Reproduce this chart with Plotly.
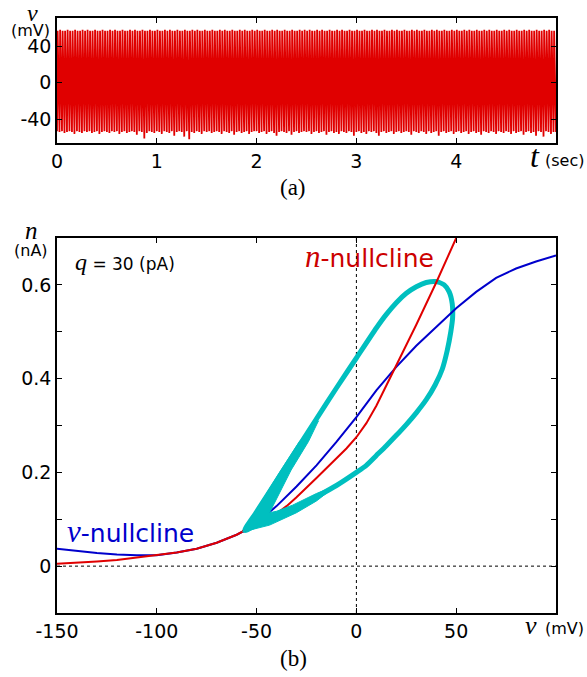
import numpy as np
import plotly.graph_objects as go

# ---------------- panel (a): membrane potential v(t) ----------------
T_END = 5.0
# trough (min) of each 25-ms bin, mV
trough_mv = [
    -53, -54, -53, -55, -54, -53, -54, -56, -53, -54, -55, -53, -54, -53, -55, -54, -53, -56, -54, -53,
    -54, -55, -53, -54, -53, -56, -54, -53, -55, -54, -53, -54, -57, -53, -54, -61, -55, -53, -54, -55,
    -53, -54, -56, -53, -54, -55, -53, -58, -54, -53, -54, -59, -53, -62, -54, -55, -53, -54, -56, -53,
    -54, -53, -55, -54, -53, -54, -56, -53, -54, -55, -53, -57, -54, -53, -55, -54, -53, -56, -54, -53,
    -53, -55, -54, -53, -56, -54, -53, -55, -58, -54, -53, -54, -55, -53, -57, -54, -53, -55, -54, -53,
    -54, -53, -56, -54, -53, -55, -54, -53, -57, -54, -53, -55, -54, -56, -53, -54, -55, -53, -54, -58,
    -54, -53, -55, -54, -56, -53, -54, -53, -55, -58, -54, -53, -55, -54, -53, -56, -54, -53, -55, -54,
    -53, -54, -57, -53, -54, -55, -53, -54, -56, -53, -55, -54, -53, -58, -54, -53, -55, -54, -53, -56,
    -54, -53, -55, -54, -53, -56, -54, -53, -55, -54, -57, -53, -54, -55, -53, -54, -56, -53, -54, -55,
    -53, -54, -56, -53, -55, -54, -53, -57, -54, -53, -55, -54, -58, -53, -54, -59, -53, -54, -56, -54,
]
# peak (max) of each 25-ms bin, mV
peak_mv = [
    57, 58, 57, 57, 58, 57, 57, 58, 57, 57, 58, 57, 58, 57, 57, 58, 57, 57, 58, 57,
    57, 58, 57, 58, 57, 57, 58, 57, 57, 58, 57, 58, 57, 57, 58, 57, 57, 58, 57, 57,
    58, 57, 57, 58, 57, 58, 57, 57, 58, 57, 57, 58, 57, 57, 58, 57, 58, 57, 57, 58,
    57, 57, 58, 57, 57, 58, 57, 58, 57, 57, 58, 57, 57, 58, 57, 58, 57, 57, 58, 57,
    58, 57, 57, 58, 57, 57, 58, 57, 58, 57, 57, 58, 57, 57, 58, 57, 57, 58, 57, 58,
    57, 58, 57, 57, 58, 57, 58, 57, 57, 58, 57, 57, 58, 57, 58, 57, 57, 58, 57, 57,
    58, 57, 57, 58, 57, 57, 58, 57, 58, 57, 57, 58, 57, 57, 58, 57, 58, 57, 57, 58,
    57, 57, 58, 57, 58, 57, 57, 58, 57, 57, 58, 57, 58, 57, 57, 58, 57, 57, 58, 57,
    58, 57, 57, 58, 57, 58, 57, 57, 58, 57, 57, 58, 57, 58, 57, 57, 58, 57, 57, 58,
    57, 58, 57, 57, 58, 57, 57, 58, 57, 58, 57, 57, 58, 57, 57, 58, 57, 58, 57, 57,
]
t_ticks = [0, 1, 2, 3, 4, 5]
t_ticktext = ["0", "1", "2", "3", "4", ""]
va_ticks = [-40, 0, 40]
va_ticktext = ["-40", "0", "40"]

# ---------------- panel (b): phase plane ----------------
vnc_v = [-150, -140, -130, -120, -110, -100, -90, -80, -70, -60, -55, -50, -45, -40, -35, -30,
         -20, -10, 0, 10, 20, 30, 40, 50, 60, 70, 80, 90, 100]
vnc_n = [0.037, 0.032, 0.028, 0.025, 0.023, 0.023, 0.029, 0.037, 0.05, 0.067, 0.078, 0.095, 0.11,
         0.128, 0.148, 0.17, 0.215, 0.265, 0.318, 0.375, 0.425, 0.47, 0.51, 0.55, 0.585, 0.615,
         0.635, 0.65, 0.663]
nnc_v = [-150, -140, -130, -120, -110, -100, -90, -80, -70, -60, -55, -50, -45, -40, -35, -30,
         -20, -10, -5, 0, 5, 10, 15, 20, 30, 40, 50]
nnc_n = [0.005, 0.007, 0.01, 0.013, 0.018, 0.023, 0.029, 0.037, 0.05, 0.067, 0.078, 0.09, 0.1,
         0.112, 0.128, 0.147, 0.188, 0.23, 0.251, 0.275, 0.305, 0.342, 0.385, 0.43, 0.515,
         0.605, 0.70]
cycle_v = [-56, -50, -40, -30, -20, -10, 0, 10, 15, 20, 25, 30, 35, 40, 44, 46.5, 48, 48.2,
           47.3, 45.5, 43, 39.5, 35, 30, 25, 20, 15, 10, 5, 0, -10, -20, -30, -40, -50, -56]
cycle_n = [0.076, 0.116, 0.182, 0.248, 0.314, 0.38, 0.444, 0.508, 0.537, 0.562, 0.582, 0.596,
           0.605, 0.607, 0.6, 0.585, 0.56, 0.53, 0.5, 0.46, 0.42, 0.387, 0.355, 0.327, 0.302,
           0.279, 0.257, 0.236, 0.215, 0.2, 0.172, 0.148, 0.125, 0.105, 0.087, 0.076]
# outline of the dense band of trajectories near the cusp
wedge_v = [-57, -43.5, -30, -20, -10, -20, -32, -40, -43.5, -32.7, -24, -19, -28.5, -38.5, -57]
wedge_n = [0.073, 0.0875, 0.114, 0.139, 0.172, 0.155, 0.13, 0.117, 0.114, 0.205, 0.266, 0.31,
           0.266, 0.2, 0.073]
vb_ticks = [-150, -100, -50, 0, 50, 100]
vb_ticktext = ["-150", "-100", "-50", "0", "50", ""]
n_ticks = [-0.1, 0.0, 0.1, 0.2, 0.3, 0.4, 0.5, 0.6, 0.7]
n_ticktext = ["", "0", "", "0.2", "", "0.4", "", "0.6", ""]

RED = "#e00000"
BLUE = "#0000cc"
CYAN = "#00bfbf"
W, H = 587, 677

# build the spike trace from the per-bin extremes
nb = len(trough_mv)
bin_w = T_END / nb
tx, vy = [], []
for i in range(nb):
    t0 = i * bin_w
    tx += [t0, t0 + 0.25 * bin_w]
    vy += [trough_mv[i], peak_mv[i]]
tx.append(T_END)
vy.append(trough_mv[-1])

fig = go.Figure()
fig.add_trace(go.Scatter(x=tx, y=vy, mode="lines", line=dict(color=RED, width=1.8),
                         xaxis="x", yaxis="y", hoverinfo="skip"))
fig.add_trace(go.Scatter(x=cycle_v, y=cycle_n, mode="lines",
                         line=dict(color=CYAN, width=5, shape="spline", smoothing=0.6),
                         xaxis="x2", yaxis="y2"))
fig.add_trace(go.Scatter(x=vnc_v, y=vnc_n, mode="lines", line=dict(color=BLUE, width=2),
                         xaxis="x2", yaxis="y2"))
fig.add_trace(go.Scatter(x=nnc_v, y=nnc_n, mode="lines", line=dict(color=RED, width=2),
                         xaxis="x2", yaxis="y2"))
fig.add_trace(go.Scatter(x=wedge_v, y=wedge_n, mode="lines", fill="toself", fillcolor=CYAN,
                         line=dict(color=CYAN, width=1), xaxis="x2", yaxis="y2"))

tickfont = dict(family="DejaVu Sans", size=19, color="black")
axis_common = dict(showline=True, linecolor="black", linewidth=1.5, mirror="allticks",
                   ticks="inside", ticklen=5, tickwidth=1, tickcolor="black",
                   showgrid=False, zeroline=False, tickfont=tickfont, tickmode="array",
                   automargin=False)

xd = [57 / W, 556 / W]
fig.update_layout(
    template="none",
    width=W, height=H, margin=dict(l=0, r=0, t=0, b=0, pad=0),
    paper_bgcolor="white", plot_bgcolor="white", showlegend=False,
    xaxis=dict(domain=xd, range=[0, T_END], tickvals=t_ticks, ticktext=t_ticktext,
               anchor="y", **axis_common),
    yaxis=dict(domain=[1 - 143 / H, 1 - 18 / H], range=[-66, 71], tickvals=va_ticks,
               ticktext=va_ticktext, anchor="x", **axis_common),
    xaxis2=dict(domain=xd, range=[-150, 100], tickvals=vb_ticks, ticktext=vb_ticktext,
                anchor="y2", **axis_common),
    yaxis2=dict(domain=[1 - 613 / H, 1 - 238 / H], range=[-0.1, 0.7], tickvals=n_ticks,
                ticktext=n_ticktext, anchor="x2", **axis_common),
)

fig.add_shape(type="line", xref="x2", yref="y2 domain", x0=0, x1=0, y0=0, y1=1,
              line=dict(color="black", width=1, dash="dot"), layer="below")
fig.add_shape(type="line", xref="x2 domain", yref="y2", x0=0, x1=1, y0=0, y1=0,
              line=dict(color="black", width=1, dash="dot"), layer="below")

SERIF = "Liberation Serif"
SANS = "DejaVu Sans"


def pa(text, px, py, font, size, color="black", xanchor="center"):
    fig.add_annotation(text=text, x=px / W, y=1 - py / H, xref="paper", yref="paper",
                       showarrow=False, xanchor=xanchor, yanchor="middle", borderpad=0,
                       font=dict(family=font, size=size, color=color))


pa("<i>v</i>", 32, 13, SERIF, 24)
pa("(mV)", 30, 31, SANS, 16)
pa("<i>t</i>", 535, 156, SERIF, 32)
pa("(sec)", 564, 160, SANS, 16)
pa("(a)", 293, 187, SERIF, 23)
pa("<i>n</i>", 31, 230, SERIF, 25)
pa("(nA)", 31, 251, SANS, 16)
pa("<i>v</i>", 531, 625, SERIF, 26)
pa("(mV)", 564, 628, SANS, 16)
pa("(b)", 293, 658, SERIF, 23)

fig.add_annotation(
    text=f'<span style="font-family:{SERIF};font-size:24px"><i>q</i></span> = 30 (pA)',
    x=-142, y=0.649, xref="x2", yref="y2", showarrow=False, xanchor="left", yanchor="middle",
    font=dict(family=SANS, size=17, color="black"))
fig.add_annotation(
    text=f'<span style="font-family:{SERIF};font-size:31px"><i>n</i></span>-nullcline',
    x=-27, y=0.66, xref="x2", yref="y2", showarrow=False, xanchor="left", yanchor="middle",
    font=dict(family=SANS, size=25, color="#cc0000"))
fig.add_annotation(
    text=f'<span style="font-family:{SERIF};font-size:31px"><i>v</i></span>-nullcline',
    x=-146, y=0.073, xref="x2", yref="y2", showarrow=False, xanchor="left", yanchor="middle",
    font=dict(family=SANS, size=25, color="#0000cc"))

fig.write_html("out.html")
